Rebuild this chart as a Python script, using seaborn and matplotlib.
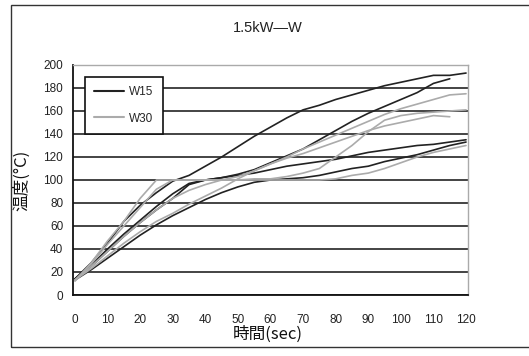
import numpy as np
import pandas as pd
import matplotlib
matplotlib.use("Agg")
import matplotlib.pyplot as plt
import seaborn as sns
from matplotlib.patches import Rectangle
from matplotlib.lines import Line2D

time = list(range(0, 121, 5))

w15_a = [14, 28, 45, 64, 78, 89, 99, 104, 112, 120, 129, 138, 146, 154, 161, 165, 170, 174, 178, 182, 185, 188, 191, 191, 193]
w15_b = [14, 25, 38, 51, 63, 74, 84, 96, 100, 102, 105, 109, 115, 121, 127, 135, 143, 151, 158, 164, 170, 176, 184, 188, np.nan]
w15_c = [14, 26, 40, 53, 65, 77, 88, 97, 100, 102, 104, 106, 109, 112, 114, 116, 118, 121, 124, 126, 128, 130, 131, 133, 135]
w15_d = [13, 22, 32, 42, 52, 61, 69, 76, 83, 89, 94, 98, 100, 101, 102, 104, 107, 110, 112, 116, 119, 122, 126, 130, 133]

w30_a = [13, 23, 34, 45, 55, 64, 71, 79, 86, 93, 101, 108, 114, 120, 127, 133, 139, 145, 151, 157, 162, 166, 170, 174, 175]
w30_b = [12, 28, 47, 64, 84, 100, 100, 100, 100, 100, 100, 101, 101, 103, 106, 110, 120, 130, 142, 152, 156, 158, 159, 160, 161]
w30_c = [13, 25, 38, 51, 63, 74, 84, 91, 96, 100, 103, 108, 114, 119, 123, 128, 133, 138, 143, 147, 150, 153, 156, 155, np.nan]
w30_d = [13, 27, 44, 60, 76, 92, 100, 100, 100, 100, 100, 100, 100, 100, 100, 100, 101, 104, 106, 110, 115, 120, 124, 127, 130]

series_names = ["W15", "W30"]
runs = {
    "W15": [w15_a, w15_b, w15_c, w15_d],
    "W30": [w30_a, w30_b, w30_c, w30_d],
}

rows = []
for s in series_names:
    for i, vals in enumerate(runs[s]):
        for t, v in zip(time, vals):
            rows.append({"time": t, "temp": v, "series": s, "run": f"{s}_{i}"})
df = pd.DataFrame(rows)

sns.set_style("white")
plt.rcParams["font.family"] = ["Liberation Sans", "Noto Sans CJK JP", "DejaVu Sans"]
cjk = ["Noto Sans CJK JP", "DejaVu Sans"]

W, H = 529, 356
fig = plt.figure(figsize=(W / 100, H / 100), dpi=100)
ax = fig.add_axes([73 / W, 1 - 295 / H, (468 - 73) / W, (295 - 65) / H])

palette = {"W15": "#222222", "W30": "#ababab"}
sns.lineplot(data=df, x="time", y="temp", hue="series", units="run",
             estimator=None, palette=palette, linewidth=1.2, ax=ax,
             legend=False, zorder=3)

ax.set_xlim(-0.6, 120.6)
ax.set_ylim(0, 200)
ax.set_xticks(range(0, 121, 10))
ax.set_yticks(range(0, 201, 20))
ax.yaxis.grid(True, color="#111111", linewidth=1.1)
ax.xaxis.grid(False)
ax.set_axisbelow(True)

for side in ["top", "right"]:
    ax.spines[side].set_color("#aaaaaa")
    ax.spines[side].set_linewidth(1.0)
for side in ["left", "bottom"]:
    ax.spines[side].set_color("#111111")
    ax.spines[side].set_linewidth(1.3)

ax.tick_params(axis="x", direction="in", length=4, width=1, color="#111111",
               pad=14, labelsize=8.5, labelcolor="#222222")
ax.tick_params(axis="y", direction="out", length=3, width=1, color="#111111",
               pad=4, labelsize=8.5, labelcolor="#222222")
ax.set_xlabel("")
ax.set_ylabel("")

fig.text(268 / W, 1 - 28 / H, "1.5kW—W", ha="center", va="center", fontsize=10.5,
         color="#222222", family=["Liberation Sans", "DejaVu Sans"])
fig.text(268 / W, 1 - 334 / H, "時間(sec)", ha="center", va="center", fontsize=12,
         color="#111111", family=cjk)
fig.text(22 / W, 1 - 180 / H, "温度(°C)", ha="center", va="center", fontsize=12,
         rotation=90, color="#111111", family=cjk)

handles = [Line2D([0], [0], color=palette[s], linewidth=1.5) for s in series_names]
leg = ax.legend(handles, series_names, loc="upper left", bbox_to_anchor=(12 / 395, 1 - 12 / 230),
                borderaxespad=0, fontsize=8.5, frameon=True, fancybox=False, edgecolor="#111111",
                framealpha=1, handlelength=2.5, labelspacing=1.2, borderpad=0.8,
                handletextpad=0.4)
leg.get_frame().set_linewidth(1.2)
leg.set_zorder(5)

fig.patches.append(Rectangle((11 / W, 1 - 347 / H), (W + 20 - 11) / W, (347 - 5) / H,
                             transform=fig.transFigure, fill=False, clip_on=False,
                             edgecolor="#333333", linewidth=1.0))

fig.savefig("out.png", dpi=100)
